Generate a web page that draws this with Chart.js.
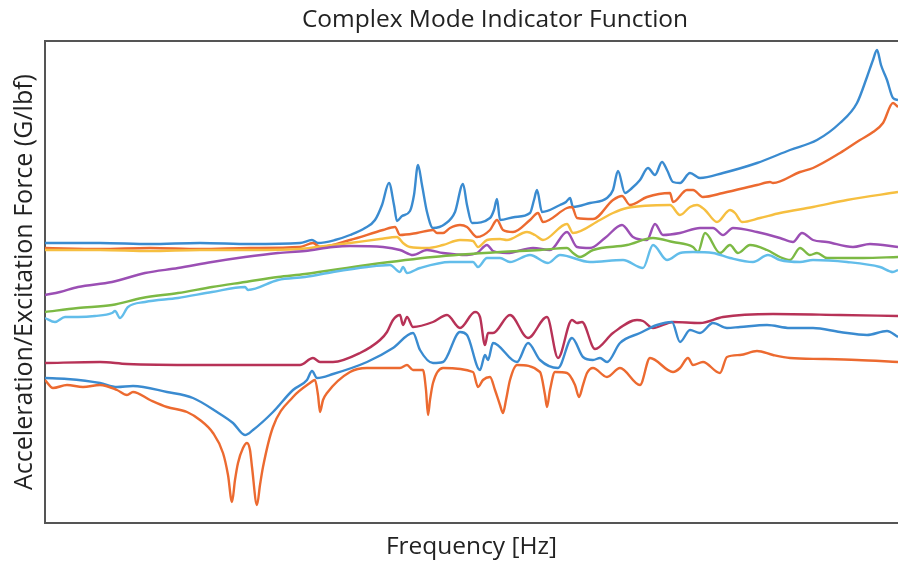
<!DOCTYPE html>
<html lang="en">
<head>
    <meta charset="UTF-8">
    <title>Complex Mode Indicator Function</title>
    <script src="https://cdn.jsdelivr.net/npm/chart.js"></script>
    <style>
        body { margin: 0; background: #fff; }
        #wrap { width: 898px; height: 562px; }
    </style>
</head>
<body>
    <div id="wrap"><canvas id="cmifChart"></canvas></div>

    <script>
        // frequency (arbitrary bins) vs amplitude (arbitrary units)
        // upper set: singular values of the CMIF
        const blueUpper = [[0,280],[55,280],[105,279],[155,280],[205,279],[255,280],[267,283],[273,280],[290,283],[305,288],[320,295],[330,303],[337,318],[344,340],[349,318],[352,302],[357,307],[365,312],[369,328],[373,358],[377,338],[382,311],[388,295],[400,299],[410,311],[418,339],[422,318],[427,300],[445,305],[449,313],[452,324],[455,303],[470,306],[485,310],[489,323],[492,333],[497,311],[515,318],[521,321],[525,325],[528,316],[545,320],[562,325],[568,333],[573,352],[580,330],[587,335],[595,343],[603,355],[610,348],[617,361],[622,353],[628,341],[635,340],[645,350],[655,345],[678,350],[712,360],[745,373],[772,383],[795,400],[812,420],[822,446],[828,463],[832,473],[836,458],[842,443],[848,425],[853,423]];
        const orangeUpper = [[0,275],[55,274],[105,275],[155,274],[205,275],[255,276],[268,280],[275,276],[305,283],[338,293],[350,296],[355,288],[372,290],[388,293],[392,290],[398,290],[405,295],[415,298],[422,296],[432,286],[445,293],[452,303],[458,293],[468,291],[485,303],[493,310],[498,301],[522,315],[527,316],[532,305],[548,304],[568,323],[577,327],[585,318],[602,326],[625,330],[628,321],[642,333],[648,333],[658,326],[678,330],[712,338],[725,341],[728,340],[755,351],[768,355],[795,370],[815,383],[828,391],[838,400],[848,420],[853,416]];
        const yellowUpper = [[0,273],[55,273],[105,272],[155,273],[205,273],[255,274],[272,276],[305,280],[335,284],[352,286],[358,280],[365,276],[382,275],[398,278],[415,283],[428,282],[433,276],[442,283],[455,284],[462,283],[482,291],[490,288],[498,283],[522,299],[528,290],[555,303],[568,310],[582,315],[625,318],[635,308],[645,316],[652,318],[660,313],[672,301],[685,313],[690,310],[697,301],[715,305],[735,310],[768,316],[802,323],[853,331]];
        const purpleUpper = [[0,228],[15,231],[33,236],[67,241],[100,250],[133,255],[167,261],[200,266],[233,270],[260,272],[288,276],[305,277],[338,276],[355,273],[368,268],[382,273],[398,270],[422,268],[432,270],[442,278],[448,272],[462,270],[488,275],[505,273],[522,291],[532,276],[545,275],[560,285],[577,298],[588,286],[602,283],[610,299],[618,288],[635,290],[655,295],[668,295],[678,288],[688,295],[712,291],[735,285],[748,281],[757,290],[768,283],[782,281],[808,276],[825,279],[853,276]];
        const greenUpper = [[0,211],[33,215],[67,218],[97,225],[133,230],[167,236],[200,241],[233,246],[260,249],[322,258],[388,266],[455,271],[495,273],[522,275],[528,270],[535,266],[548,273],[582,278],[608,285],[628,281],[648,276],[653,271],[660,290],[675,270],[685,278],[693,270],[705,278],[722,273],[735,266],[745,263],[755,275],[765,268],[772,270],[782,265],[818,265],[853,266]];
        const skyUpper = [[0,205],[10,201],[20,206],[33,206],[50,207],[67,210],[70,212],[75,205],[83,216],[100,221],[133,225],[167,231],[200,236],[203,233],[233,243],[260,246],[288,251],[322,256],[345,258],[355,251],[358,256],[362,250],[375,255],[405,261],[428,261],[433,256],[442,265],[455,265],[465,261],[485,268],[503,260],[515,268],[545,261],[578,263],[598,255],[608,278],[622,263],[635,270],[648,271],[668,270],[685,265],[708,261],[723,268],[735,263],[755,261],[768,263],[802,261],[835,256],[848,251],[853,253]];

        // lower set
        const crimsonLower = [[0,160],[55,161],[82,159],[155,158],[255,158],[268,165],[275,161],[288,161],[315,170],[335,183],[342,191],[348,203],[355,208],[358,198],[362,206],[368,196],[388,201],[402,208],[415,195],[430,211],[435,206],[440,178],[443,190],[448,190],[465,208],[483,185],[502,206],[513,165],[527,203],[532,200],[537,201],[550,174],[568,190],[592,203],[598,202],[608,195],[628,201],[655,200],[678,206],[728,209],[795,208],[853,207]];
        const blueLower = [[0,145],[22,144],[55,140],[72,136],[88,137],[122,131],[148,125],[172,111],[188,100],[200,88],[208,93],[228,111],[248,133],[262,143],[267,152],[272,145],[288,149],[322,161],[348,175],[368,190],[375,173],[388,160],[398,161],[415,191],[422,188],[435,153],[440,168],[443,163],[448,180],[472,161],[483,180],[495,163],[513,155],[527,185],[538,166],[548,163],[555,165],[562,161],[575,180],[595,190],[612,198],[627,201],[635,181],[645,193],[655,190],[668,200],[682,195],[695,196],[722,198],[745,195],[768,195],[795,191],[822,188],[842,192],[853,186]];
        const orangeLower = [[0,143],[8,135],[22,138],[38,136],[55,138],[72,133],[82,128],[88,131],[105,123],[122,116],[142,111],[155,103],[168,90],[178,70],[183,48],[187,21],[190,43],[193,60],[198,75],[202,80],[205,73],[207,56],[212,18],[215,38],[218,56],[228,96],[248,126],[265,140],[270,143],[273,128],[275,111],[278,123],[282,130],[305,151],[322,155],[355,155],[362,158],[368,153],[378,153],[381,133],[383,108],[385,123],[388,140],[398,155],[428,151],[433,136],[438,143],[445,146],[450,133],[455,118],[458,110],[461,123],[465,143],[472,158],[495,151],[500,128],[502,116],[505,133],[510,151],[522,150],[530,138],[534,126],[538,138],[542,150],[548,155],[562,146],[575,155],[595,138],[605,165],[628,151],[635,155],[643,165],[648,158],[658,161],[675,150],[682,166],[695,168],[712,172],[728,168],[745,165],[778,164],[812,163],[853,161]];

        const BLUE = '#3a8bd0';
        const ORANGE = '#ec6a30';

        Chart.defaults.font.family = "'Open Sans', sans-serif";
        Chart.defaults.color = '#222';

        function series(pairs, color) {
            return {
                data: pairs.map(([x, y]) => ({ x: x, y: y })),
                borderColor: color,
                borderWidth: 2.4,
                pointRadius: 0,
                cubicInterpolationMode: 'monotone',
                fill: false
            };
        }

        // title centred like the original figure (it sits right of the canvas centre)
        const figureTitle = {
            id: 'figureTitle',
            afterDraw(chart) {
                const ctx = chart.ctx;
                ctx.save();
                ctx.font = "24.5px 'Open Sans', sans-serif";
                ctx.fillStyle = '#222';
                ctx.textAlign = 'center';
                ctx.textBaseline = 'middle';
                ctx.fillText('Complex Mode Indicator Function', 495, 20);
                ctx.restore();
            }
        };

        const hiddenGrid = { display: false, drawTicks: false, tickLength: 0 };
        const frame = { display: true, color: '#555', width: 2 };

        new Chart(document.getElementById('cmifChart'), {
            type: 'line',
            data: {
                datasets: [
                    series(skyUpper, '#62bdea'),
                    series(greenUpper, '#7cb944'),
                    series(purpleUpper, '#9b4fb4'),
                    series(yellowUpper, '#f6bf40'),
                    series(orangeUpper, ORANGE),
                    series(blueUpper, BLUE),
                    series(orangeLower, ORANGE),
                    series(blueLower, BLUE),
                    series(crimsonLower, '#b73257')
                ]
            },
            options: {
                responsive: true,
                maintainAspectRatio: false,
                animation: false,
                layout: { padding: { top: 41, right: 0, left: 0, bottom: 0 } },
                plugins: {
                    legend: { display: false },
                    tooltip: { enabled: false }
                },
                scales: {
                    x: {
                        type: 'linear',
                        min: 0,
                        max: 853,
                        grid: hiddenGrid,
                        ticks: { display: false },
                        border: frame,
                        title: {
                            display: true,
                            text: 'Frequency [Hz]',
                            font: { size: 24.5 },
                            padding: { top: 9.6, bottom: 0 }
                        }
                    },
                    xTop: {
                        type: 'linear',
                        position: 'top',
                        min: 0,
                        max: 853,
                        grid: hiddenGrid,
                        ticks: { display: false },
                        border: frame
                    },
                    y: {
                        min: 0,
                        max: 482,
                        grid: hiddenGrid,
                        ticks: { display: false },
                        border: frame,
                        title: {
                            display: true,
                            text: 'Acceleration/Excitation Force (G/lbf)',
                            font: { size: 25 },
                            padding: { top: 10, bottom: 5 }
                        }
                    }
                }
            },
            plugins: [figureTitle]
        });
    </script>
</body>
</html>
